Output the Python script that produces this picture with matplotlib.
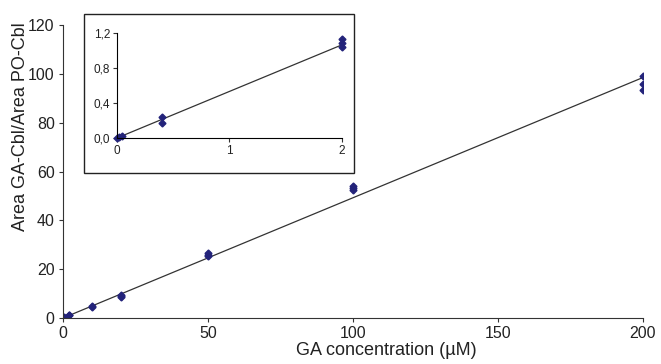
import matplotlib.pyplot as plt
from matplotlib.patches import Rectangle

plt.rcParams['font.family'] = ['Liberation Sans', 'DejaVu Sans']

# main calibration data (GA concentration in uM, area ratio)
conc = [0, 0, 0.4, 0.4, 2, 2, 10, 10, 20, 20, 20, 50, 50, 50, 100, 100, 100, 200, 200, 200]
ratio = [0, 0.02, 0.24, 0.17, 1.1, 1.05, 4.8, 4.5, 9.5, 9.0, 8.5, 26.5, 25.8, 25.2, 54.0, 53.2, 52.5, 99.0, 96.0, 93.5]
fit_x = [0, 200]
fit_y = [0, 98.5]

# inset (low concentration range)
conc_in = [0, 0.02, 0.04, 0.4, 0.4, 2, 2, 2]
ratio_in = [0, 0.01, 0.02, 0.24, 0.17, 1.13, 1.09, 1.04]
fit_x_in = [0, 2]
fit_y_in = [0, 1.065]

main_xticks = [0, 50, 100, 150, 200]
main_yticks = [0, 20, 40, 60, 80, 100, 120]
in_xticks = [0, 1, 2]
in_yticks = [0, 0.4, 0.8, 1.2]
in_ylabels = ['0,0', '0,4', '0,8', '1,2']

mcol = '#23237a'

fig = plt.figure(figsize=(6.61, 3.64), dpi=100)
ax = fig.add_axes([63/661, 1 - 318/364, 580/661, 293/364])
ax.plot(fit_x, fit_y, color='#333333', lw=0.9)
ax.plot(conc, ratio, 'D', color=mcol, ms=3.5, ls='none')
ax.set_xlim(0, 200)
ax.set_ylim(0, 120)
ax.set_xticks(main_xticks)
ax.set_yticks(main_yticks)
ax.spines['top'].set_visible(False)
ax.spines['right'].set_visible(False)
for s in ['left', 'bottom']:
    ax.spines[s].set_color('#333333')
ax.tick_params(labelsize=11.5, length=3, pad=3, color='#333333', labelcolor='#222222')
ax.set_xlabel('GA concentration (µM)', fontsize=13, color='#222222')
ax.set_ylabel('Area GA-Cbl/Area PO-Cbl', fontsize=13, color='#222222')
ax.xaxis.set_label_coords(0.557, -0.083)
ax.yaxis.set_label_coords(-0.058, 0.652)

# frame around inset
fig.patches.append(Rectangle((84/661, 1 - 173/364), 270/661, 159/364,
                             transform=fig.transFigure, fill=True, facecolor='white',
                             edgecolor='#222222', lw=1.0, zorder=5))

axi = fig.add_axes([117/661, 1 - 138/364, 225/661, 105/364], zorder=6)
axi.set_facecolor('none')
axi.plot(fit_x_in, fit_y_in, color='#333333', lw=0.9)
axi.plot(conc_in, ratio_in, 'D', color=mcol, ms=3.5, ls='none', clip_on=False)
axi.set_xlim(0, 2)
axi.set_ylim(0, 1.2)
axi.set_xticks(in_xticks)
axi.set_yticks(in_yticks)
axi.set_yticklabels(in_ylabels)
axi.spines['top'].set_visible(False)
axi.spines['right'].set_visible(False)
axi.tick_params(labelsize=8.5, length=3, pad=2, color='#333333', labelcolor='#222222')

fig.savefig('out.png', dpi=100)
